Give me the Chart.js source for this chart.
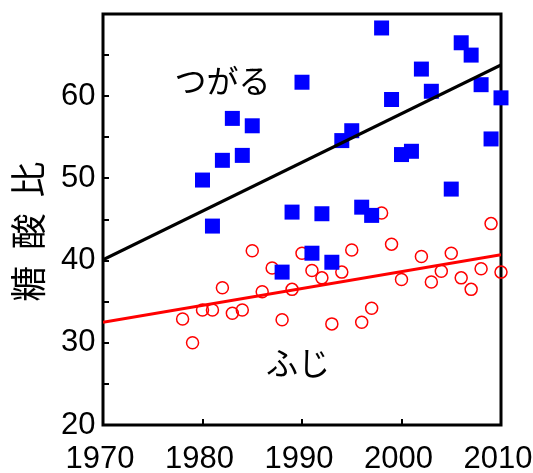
<!DOCTYPE html>
<html>
<head>
<meta charset="utf-8">
<script src="https://cdn.jsdelivr.net/npm/chart.js@4.4.1/dist/chart.umd.min.js"></script>
<style>
  body { margin: 0; background: #fff; }
  #wrap { width: 533px; height: 473px; }
</style>
</head>
<body>
<div id="wrap"><canvas id="sugarAcid" width="533" height="473"></canvas></div>
<script>
// 糖酸比 by year, apples: つがる (squares) vs ふじ (circles)
const tsugaruYears  = [1980, 1981, 1982, 1983, 1984, 1985, 1988, 1989, 1990, 1991, 1992, 1993, 1994, 1995,
                       1996, 1997, 1998, 1999, 2000, 2001, 2002, 2003, 2005, 2006, 2007, 2008, 2009, 2010];
const tsugaruValues = [49.8, 44.2, 52.2, 57.3, 52.8, 56.4, 38.6, 45.9, 61.7, 40.9, 45.7, 39.8, 54.6, 55.8,
                       46.5, 45.5, 68.3, 59.6, 52.9, 53.3, 63.3, 60.6, 48.7, 66.5, 65.0, 61.4, 54.8, 59.8];

const fujiYears  = [1978, 1979, 1980, 1981, 1982, 1983, 1984, 1985, 1986, 1987, 1988, 1989, 1990, 1991, 1992, 1993,
                    1994, 1995, 1996, 1997, 1998, 1999, 2000, 2002, 2003, 2004, 2005, 2006, 2007, 2008, 2009, 2010];
const fujiValues = [32.9, 30.0, 34.0, 34.0, 36.7, 33.6, 34.0, 41.2, 36.2, 39.1, 32.8, 36.5, 40.9, 38.8, 37.9, 32.3,
                    38.6, 41.3, 32.5, 34.2, 45.8, 42.0, 37.7, 40.5, 37.4, 38.7, 40.9, 37.9, 36.5, 39.0, 44.5, 38.6];

// regression lines (end points)
const trendYears   = [1970, 2010];
const tsugaruTrend = [40.1, 63.8];
const fujiTrend    = [32.5, 40.7];

const xTicks = [1970, 1980, 1990, 2000, 2010];
const yLabelTicks = [20, 30, 40, 50, 60];

// series names drawn inside the plot, at data coords
const seriesLabels = [
    { text: "つがる", x: 1982.0, y: 61.9 },
    { text: "ふじ",   x: 1989.6, y: 27.6 }
];

const toPoints = (xs, ys) => xs.map((x, i) => ({ x: x, y: ys[i] }));

// black box around the plot
const frame = {
    id: "frame",
    beforeDatasetsDraw(chart) {
        const { ctx, chartArea: a } = chart;
        ctx.save();
        ctx.strokeStyle = "#000";
        ctx.lineWidth = 3;
        ctx.strokeRect(a.left, a.top, a.right - a.left, a.bottom - a.top);
        ctx.restore();
    }
};

const seriesText = {
    id: "seriesText",
    afterDatasetsDraw(chart) {
        const { ctx, scales } = chart;
        ctx.save();
        ctx.fillStyle = "#000";
        ctx.font = '32px "Noto Sans CJK JP"';
        ctx.textAlign = "center";
        ctx.textBaseline = "middle";
        seriesLabels.forEach(l => {
            ctx.fillText(l.text, scales.x.getPixelForValue(l.x), scales.y.getPixelForValue(l.y));
        });
        ctx.restore();
    }
};

Chart.defaults.font.family = '"Liberation Sans", Arial, sans-serif';
Chart.defaults.color = "#000";

new Chart(document.getElementById("sugarAcid"), {
    type: "scatter",
    data: {
        datasets: [
            {
                label: "つがる 回帰",
                data: toPoints(trendYears, tsugaruTrend),
                showLine: true,
                borderColor: "#000",
                borderWidth: 3,
                pointRadius: 0,
                order: 0
            },
            {
                label: "ふじ 回帰",
                data: toPoints(trendYears, fujiTrend),
                showLine: true,
                borderColor: "#ff0000",
                borderWidth: 3,
                pointRadius: 0,
                order: 0
            },
            {
                label: "つがる",
                data: toPoints(tsugaruYears, tsugaruValues),
                pointStyle: "rect",
                pointRadius: 10.6,
                backgroundColor: "#0000ff",
                borderColor: "#0000ff",
                borderWidth: 0,
                clip: false,
                order: 1
            },
            {
                label: "ふじ",
                data: toPoints(fujiYears, fujiValues),
                pointStyle: "circle",
                pointRadius: 6,
                backgroundColor: "rgba(0,0,0,0)",
                borderColor: "#ff0000",
                borderWidth: 1.5,
                clip: false,
                order: 2
            }
        ]
    },
    options: {
        responsive: false,
        animation: false,
        layout: { padding: { top: 14, right: 32, bottom: 0, left: 0 } },
        plugins: {
            legend: { display: false },
            tooltip: { enabled: false }
        },
        scales: {
            x: {
                type: "linear",
                min: 1970,
                max: 2010,
                border: { display: false },
                grid: { drawOnChartArea: false, tickLength: -6, color: "#000", lineWidth: 2 },
                afterBuildTicks: s => { s.ticks = xTicks.map(v => ({ value: v })); },
                ticks: {
                    autoSkip: false,
                    maxRotation: 0,
                    padding: 22,
                    labelOffset: -3,
                    font: { size: 31 },
                    callback: v => String(v)
                },
                afterFit: s => {
                    s.height = 48;
                    s.paddingLeft = 0; s.paddingRight = 0;
                }
            },
            y: {
                min: 20,
                max: 70,
                border: { display: false },
                grid: { drawOnChartArea: false, tickLength: -6, color: "#000", lineWidth: 2 },
                ticks: {
                    stepSize: 5,
                    padding: 13.5,
                    font: { size: 31 },
                    callback: v => yLabelTicks.includes(v) ? String(v) : ""
                },
                title: {
                    display: true,
                    text: "糖  酸  比   ",
                    font: { family: '"Noto Sans CJK JP"', size: 36 },
                    padding: { top: 7, bottom: 0 }
                },
                afterFit: s => {
                    s.width = 103;
                    s.paddingTop = 0; s.paddingBottom = 0;
                }
            }
        }
    },
    plugins: [frame, seriesText]
});
</script>
</body>
</html>
